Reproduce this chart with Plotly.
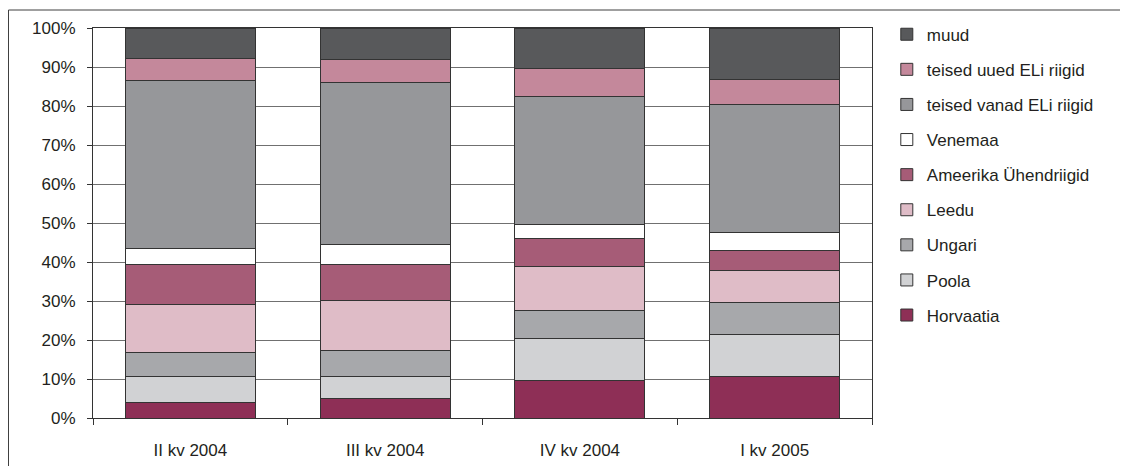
import plotly.graph_objects as go

# Quarters on the x axis
quarters = ["II kv 2004", "III kv 2004", "IV kv 2004", "I kv 2005"]

# Share of each country group, % (stacked from bottom to top)
horvaatia = [4.0, 5.0, 9.6, 10.6]
poola = [6.7, 5.6, 10.8, 10.9]
ungari = [6.1, 6.8, 7.2, 8.2]
leedu = [12.4, 12.8, 11.3, 8.2]
ameerika = [10.2, 9.2, 7.2, 5.1]
venemaa = [4.1, 5.2, 3.5, 4.6]
vanad_el = [43.1, 41.5, 32.9, 32.9]
uued_el = [5.7, 5.7, 7.2, 6.2]
muud = [7.7, 8.2, 10.3, 13.3]

y_ticks = list(range(0, 101, 10))
y_labels = [f"{v}%" for v in y_ticks]

series = [
    ("Horvaatia", horvaatia, "#8e2f56"),
    ("Poola", poola, "#d1d2d4"),
    ("Ungari", ungari, "#a7a8ab"),
    ("Leedu", leedu, "#dfbcc7"),
    ("Ameerika Ühendriigid", ameerika, "#a65c77"),
    ("Venemaa", venemaa, "#ffffff"),
    ("teised vanad ELi riigid", vanad_el, "#96979a"),
    ("teised uued ELi riigid", uued_el, "#c4889b"),
    ("muud", muud, "#58595b"),
]

fig = go.Figure()
for i, (name, vals, color) in enumerate(series):
    fig.add_trace(go.Bar(
        x=quarters, y=vals, name=name, legendgroup=name,
        legendrank=1000 - i,  # top segment first in the legend
        marker=dict(color=color, line=dict(color="#333333", width=1)),
    ))

font = dict(family="Liberation Sans, Arial, sans-serif", size=17, color="#231f20")

# the page body adds an 8px offset, so the figure is 8px smaller than the window
fig.update_layout(
    barmode="stack",
    bargap=0.333,
    width=1120, height=458,
    margin=dict(l=85, r=256, t=20, b=48, autoexpand=False),
    paper_bgcolor="white", plot_bgcolor="white",
    font=font,
    legend=dict(
        x=1.019, xanchor="left",
        y=1.029, yanchor="top",
        traceorder="grouped",
        tracegroupgap=10,
        maxheight=450,
        font=font,
        itemwidth=30,
    ),
    xaxis=dict(
        automargin=False,
        showline=True, linecolor="#333333", linewidth=1,
        ticks="outside", tickson="boundaries", ticklen=6, tickcolor="#333333",
        ticklabelstandoff=17, mirror=True,
    ),
    yaxis=dict(
        automargin=False,
        range=[0, 100], tickvals=y_ticks, ticktext=y_labels,
        showline=True, linecolor="#333333", linewidth=1, mirror=True,
        ticks="outside", ticklen=5, tickcolor="#333333",
        showgrid=True, gridcolor="#707070", gridwidth=1,
        ticklabelstandoff=8,
    ),
    shapes=[dict(
        type="rect", xref="paper", yref="paper",
        x0=(8.5 - 93) / 779, x1=(1140 - 93) / 779,
        y0=(418 - 480) / 390, y1=(418 - 10) / 390,
        line=dict(color="#404040", width=1), fillcolor="rgba(0,0,0,0)",
        layer="below",
    )],
)

fig.write_html("out.html")
